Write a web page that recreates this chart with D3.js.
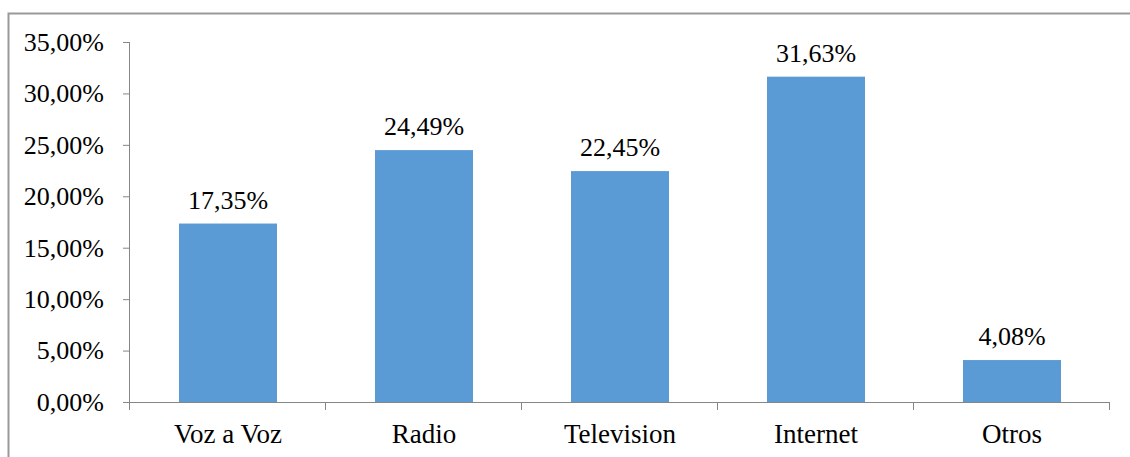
<!DOCTYPE html>
<html>
<head>
<meta charset="utf-8">
<script src="https://cdn.jsdelivr.net/npm/d3@7"></script>
<style>
  body { margin: 0; }
  svg text { font-family: "Times New Roman", "Liberation Serif", serif !important; }
</style>
</head>
<body>
<script>
// chart data
const categories = ["Voz a Voz", "Radio", "Television", "Internet", "Otros"];
const values = [17.35, 24.49, 22.45, 31.63, 4.08];
const yTicks = [0, 5, 10, 15, 20, 25, 30, 35];

const fmt = v => v.toFixed(2).replace(".", ",") + "%";
const FONT = "'Times New Roman', 'Liberation Serif', serif";

const W = 1130, H = 457;
const margin = {top: 42, left: 130};
const width = 1110 - margin.left,
      height = 402 - margin.top;

const svg = d3.select("body")
              .append("svg")
              .attr("width", W)
              .attr("height", H)
              .style("font-family", FONT);

// outer frame (left and top edges visible)
svg.append("path")
   .attr("d", `M8.5,${H} L8.5,13.5 L${W},13.5`)
   .attr("fill", "none")
   .attr("stroke", "#999")
   .attr("stroke-width", 2);

const g = svg.append("g")
             .attr("transform", `translate(${margin.left},${margin.top})`);

const x = d3.scaleBand()
            .domain(categories)
            .range([0, width])
            .paddingInner(0.5)
            .paddingOuter(0.25);

const y = d3.scaleLinear()
            .domain([0, 35])
            .range([height, 0]);

// bars
g.selectAll("rect")
 .data(values)
 .enter().append("rect")
 .attr("x", (d, i) => x(categories[i]))
 .attr("y", d => y(d))
 .attr("width", x.bandwidth())
 .attr("height", d => height - y(d))
 .attr("fill", "#5B9BD5");

// value labels
svg.selectAll("text.val")
 .data(values)
 .enter().append("text")
 .attr("class", "val")
 .attr("x", (d, i) => margin.left + x(categories[i]) + x.bandwidth() / 2)
 .attr("y", d => margin.top + y(d) - 15)
 .attr("text-anchor", "middle")
 .attr("font-size", 26)
 .style("font-family", FONT)
 .text(d => fmt(d));

// y axis
const yAxis = g.append("g")
               .call(d3.axisLeft(y).tickValues(yTicks).tickSize(7).tickPadding(19).tickFormat(fmt));
yAxis.attr("font-family", FONT).attr("font-size", 26);
yAxis.select(".domain").attr("stroke", "#868686").attr("d", `M-0.5,${height}V0`);
yAxis.selectAll(".tick line").attr("stroke", "#868686");
yAxis.selectAll(".tick text")
     .attr("fill", "#000")
     .style("font-family", FONT);

// x axis with ticks at category boundaries
const step = width / categories.length;
const xAxis = g.append("g")
               .attr("transform", `translate(0,${height})`);
xAxis.append("line")
     .attr("x1", 0).attr("x2", width)
     .attr("y1", 0.5).attr("y2", 0.5)
     .attr("stroke", "#868686");
xAxis.selectAll("line.tk")
     .data(d3.range(categories.length + 1))
     .enter().append("line")
     .attr("class", "tk")
     .attr("x1", i => Math.round(i * step) - 0.5)
     .attr("x2", i => Math.round(i * step) - 0.5)
     .attr("y1", 0).attr("y2", 8)
     .attr("stroke", "#868686");
xAxis.selectAll("text")
     .data(categories)
     .enter().append("text")
     .attr("x", d => x(d) + x.bandwidth() / 2)
     .attr("y", 41)
     .attr("text-anchor", "middle")
     .attr("font-size", 27)
     .style("font-family", FONT)
     .text(d => d);
</script>
</body>
</html>
